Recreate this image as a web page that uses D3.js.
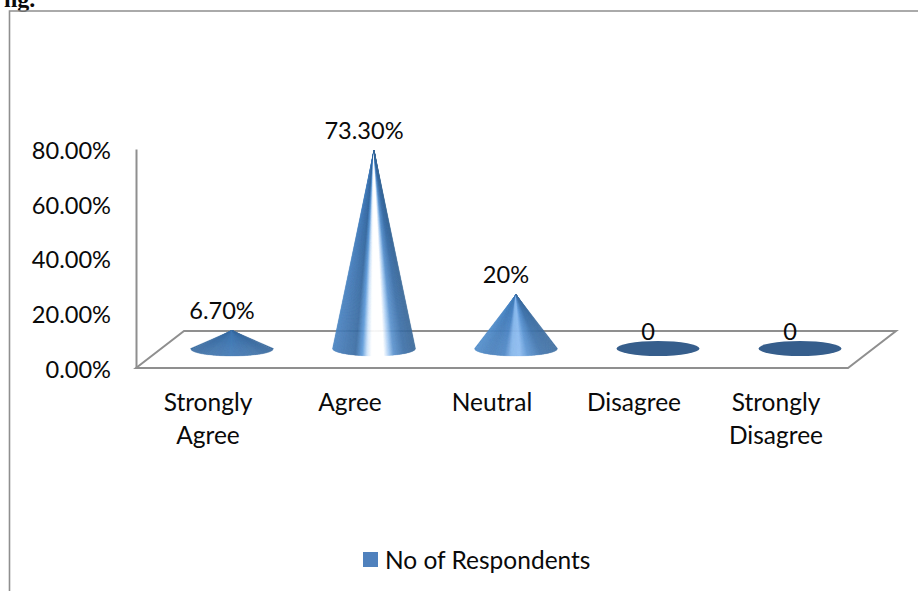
<!DOCTYPE html>
<html>
<head>
<meta charset="utf-8">
<script src="https://cdn.jsdelivr.net/npm/d3@7/dist/d3.min.js"></script>
<style>
html,body{margin:0;padding:0;background:#fff;overflow:hidden}
svg{display:block}
text{font-family:Lato,sans-serif;fill:#0a0a0a}
</style>
</head>
<body>
<svg id="chart" width="918" height="591"></svg>
<script>
// Survey response shares, in percent
const categories = ["Strongly Agree", "Agree", "Neutral", "Disagree", "Strongly Disagree"];
const categoryLines = [["Strongly", "Agree"], ["Agree"], ["Neutral"], ["Disagree"], ["Strongly", "Disagree"]];
const values = [6.7, 73.3, 20, 0, 0];
const valueLabels = ["6.70%", "73.30%", "20%", "0", "0"];
const yTicks = [0, 20, 40, 60, 80];
const seriesName = "No of Respondents";

const svg = d3.select("#chart");
const grey = "#8f8f8f";
const numberSize = 23.6, wordSize = 24.5;

// Scales: the front plane carries the axis, cones stand further back on the floor
const y = d3.scaleLinear().domain([0, 80]).range([368, 149]);
const depthX = 48, depthY = -37;
const x = d3.scalePoint().domain(categories).range([208, 776]);
const coneShiftX = 24, coneShiftY = -19.5;
const coneY = d3.scaleLinear().domain([0, 80]).range([y(0) + coneShiftY, y(0) + coneShiftY - 216]);
const baseRx = 41.5, baseRy = 7.5;

// Outer frame of the chart, with the tail of the caption above it
svg.append("text").attr("x", 4).attr("y", 6.5)
  .style("font-family", "'Liberation Serif',serif").style("font-weight", "bold")
  .style("font-size", "24px").text("ng.");
svg.append("path")
  .attr("d", "M9.5,591V11H918")
  .attr("fill", "none").attr("stroke", grey).attr("stroke-width", 1.6);

// Perspective floor
const floorLeft = 136, floorRight = 848;
svg.append("path")
  .attr("d", `M${floorLeft},${y(0)}L${floorLeft + depthX},${y(0) + depthY}L${floorRight + depthX},${y(0) + depthY}L${floorRight},${y(0)}Z`)
  .attr("fill", "#fff").attr("stroke", grey).attr("stroke-width", 2);

// Value axis
const axis = d3.axisLeft(y).tickValues(yTicks).tickSize(0).tickPadding(25)
  .tickFormat(d => d3.format(".2f")(d) + "%");
const axisG = svg.append("g").attr("transform", `translate(${floorLeft},0)`).call(axis);
axisG.select(".domain").attr("stroke", grey).attr("stroke-width", 2);
axisG.selectAll("text")
  .attr("dy", "0.4em")
  .style("font-family", "Lato,sans-serif").style("font-size", numberSize + "px").attr("fill", "#0a0a0a");

// Cone shading across the width: the highlight dims as the cone gets shorter
function shade(stops) {
  return d3.scaleLinear().domain(stops.map(s => s[0])).range(stops.map(s => s[1]));
}
const shadeTall = shade([[0, "#4a84c2"], [.12, "#4479b4"], [.28, "#3b6da3"], [.36, "#5f9bda"], [.42, "#cfe4fa"], [.47, "#ffffff"], [.62, "#ffffff"], [.68, "#a9cdf3"], [.74, "#5d94cf"], [.86, "#3f72aa"], [1, "#3a6899"]]);
const shadeMid = shade([[0, "#4f8cca"], [.2, "#4a80bc"], [.36, "#4f88c6"], [.45, "#85b5ea"], [.55, "#8dbcf0"], [.64, "#5d96d3"], [.8, "#4275ad"], [1, "#3c6c9f"]]);
const shadeLow = shade([[0, "#3b6ca1"], [.5, "#4279b4"], [1, "#3a6a9e"]]);
const coneShade = v => v > 50 ? shadeTall : v > 10 ? shadeMid : shadeLow;

// Each cone is a fan of thin wedges meeting at the apex, so the shading converges upward
const wedgeSteps = d3.range(0, 140);
const cones = svg.append("g").selectAll("g").data(categories).join("g");
cones.each(function (c, i) {
  const g = d3.select(this);
  const cx = x(c) + coneShiftX, base = coneY(0), top = coneY(values[i]);
  if (values[i] === 0) {
    g.append("ellipse").attr("cx", cx).attr("cy", base)
      .attr("rx", baseRx).attr("ry", baseRy).attr("fill", "#365e8c");
    return;
  }
  const rim = t => {
    const u = 2 * t - 1;
    return [cx + baseRx * u, base + baseRy * Math.sqrt(Math.max(0, 1 - u * u))];
  };
  const color = coneShade(values[i]);
  g.selectAll("path").data(wedgeSteps).join("path")
    .attr("d", s => {
      const a = rim(s / wedgeSteps.length), b = rim((s + 1) / wedgeSteps.length);
      return `M${cx},${top}L${a[0]},${a[1]}L${b[0]},${b[1]}Z`;
    })
    .attr("fill", s => color((s + 0.5) / wedgeSteps.length))
    .attr("stroke", s => color((s + 0.5) / wedgeSteps.length))
    .attr("stroke-width", 0.3);
});

// Value labels above each apex; flat markers keep theirs closer
svg.append("g").selectAll("text").data(categories).join("text")
  .attr("x", c => x(c) + 14)
  .attr("y", (c, i) => coneY(values[i]) - (values[i] > 0 ? 20 : 16.5))
  .attr("dy", "0.36em")
  .attr("text-anchor", "middle")
  .style("font-size", numberSize + "px")
  .text((c, i) => valueLabels[i]);

// Category labels, wrapped on two lines where needed
svg.append("g").selectAll("text").data(categories).join("text")
  .attr("text-anchor", "middle")
  .style("font-size", wordSize + "px")
  .each(function (c, i) {
    d3.select(this).selectAll("tspan").data(categoryLines[i]).join("tspan")
      .attr("x", x(c))
      .attr("y", (l, j) => 411 + j * 33)
      .text(l => l);
  });

// Legend
svg.append("rect").attr("x", 363).attr("y", 552).attr("width", 15).attr("height", 15).attr("fill", "#4f81bd");
svg.append("text").attr("x", 385).attr("y", 569).style("font-size", wordSize + "px").text(seriesName);
</script>
</body>
</html>
